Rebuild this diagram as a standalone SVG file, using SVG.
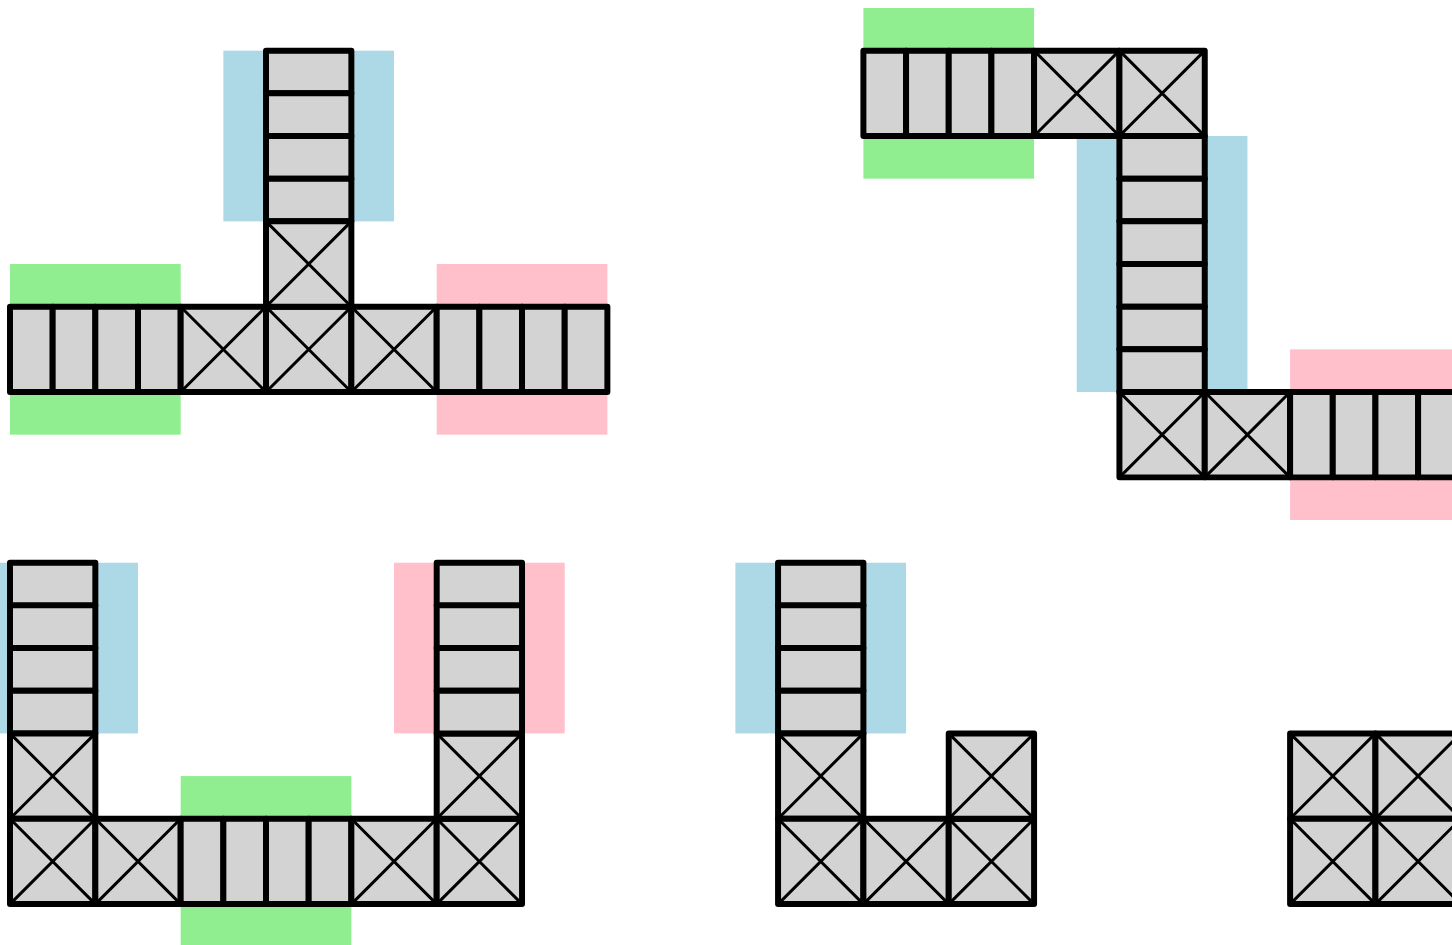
<svg xmlns="http://www.w3.org/2000/svg" xmlns:xlink="http://www.w3.org/1999/xlink" width="1452" height="945" viewBox="0 0 1452 945">
<style>
.c{fill:#d3d3d3;stroke:#000;stroke-width:0.14;stroke-linejoin:round;stroke-linecap:round}
.d{fill:none;stroke:#000;stroke-width:0.07}
.blue{fill:#add8e6}
.green{fill:#90ee90}
.pink{fill:#ffc0cb}
</style>
<defs>
<g id="xc"><rect width="2" height="2" class="c"/><path d="M0 0L2 2M2 0L0 2" class="d"/></g>
<rect id="vs" width="1" height="2" class="c"/>
<rect id="hs" width="2" height="1" class="c"/>
</defs>
<rect width="1452" height="945" fill="#fff"/>
<g transform="translate(10,8) scale(42.67)">
<g id="shape-t">
<rect class="blue" x="5" y="1" width="4" height="4"/>
<rect class="green" x="0" y="6" width="4" height="4"/>
<rect class="pink" x="10" y="6" width="4" height="4"/>
<use href="#vs" x="0" y="7"/><use href="#vs" x="1" y="7"/><use href="#vs" x="2" y="7"/><use href="#vs" x="3" y="7"/>
<use href="#xc" x="4" y="7"/><use href="#xc" x="6" y="7"/><use href="#xc" x="8" y="7"/>
<use href="#vs" x="10" y="7"/><use href="#vs" x="11" y="7"/><use href="#vs" x="12" y="7"/><use href="#vs" x="13" y="7"/>
<use href="#hs" x="6" y="1"/><use href="#hs" x="6" y="2"/><use href="#hs" x="6" y="3"/><use href="#hs" x="6" y="4"/>
<use href="#xc" x="6" y="5"/>
</g>
<g id="shape-s">
<rect class="green" x="20" y="0" width="4" height="4"/>
<rect class="blue" x="25" y="3" width="4" height="6"/>
<rect class="pink" x="30" y="8" width="4" height="4"/>
<use href="#vs" x="20" y="1"/><use href="#vs" x="21" y="1"/><use href="#vs" x="22" y="1"/><use href="#vs" x="23" y="1"/>
<use href="#xc" x="24" y="1"/><use href="#xc" x="26" y="1"/>
<use href="#hs" x="26" y="3"/><use href="#hs" x="26" y="4"/><use href="#hs" x="26" y="5"/><use href="#hs" x="26" y="6"/><use href="#hs" x="26" y="7"/><use href="#hs" x="26" y="8"/>
<use href="#xc" x="26" y="9"/><use href="#xc" x="28" y="9"/>
<use href="#vs" x="30" y="9"/><use href="#vs" x="31" y="9"/><use href="#vs" x="32" y="9"/><use href="#vs" x="33" y="9"/>
</g>
<g id="shape-u">
<rect class="blue" x="-1" y="13" width="4" height="4"/>
<rect class="pink" x="9" y="13" width="4" height="4"/>
<rect class="green" x="4" y="18" width="4" height="4"/>
<use href="#hs" x="0" y="13"/><use href="#hs" x="0" y="14"/><use href="#hs" x="0" y="15"/><use href="#hs" x="0" y="16"/>
<use href="#xc" x="0" y="17"/><use href="#xc" x="0" y="19"/><use href="#xc" x="2" y="19"/>
<use href="#vs" x="4" y="19"/><use href="#vs" x="5" y="19"/><use href="#vs" x="6" y="19"/><use href="#vs" x="7" y="19"/>
<use href="#xc" x="8" y="19"/><use href="#xc" x="10" y="19"/><use href="#xc" x="10" y="17"/>
<use href="#hs" x="10" y="13"/><use href="#hs" x="10" y="14"/><use href="#hs" x="10" y="15"/><use href="#hs" x="10" y="16"/>
</g>
<g id="shape-l">
<rect class="blue" x="17" y="13" width="4" height="4"/>
<use href="#hs" x="18" y="13"/><use href="#hs" x="18" y="14"/><use href="#hs" x="18" y="15"/><use href="#hs" x="18" y="16"/>
<use href="#xc" x="18" y="17"/><use href="#xc" x="18" y="19"/><use href="#xc" x="20" y="19"/><use href="#xc" x="22" y="19"/><use href="#xc" x="22" y="17"/>
</g>
<g id="shape-o">
<use href="#xc" x="30" y="17"/><use href="#xc" x="32" y="17"/><use href="#xc" x="30" y="19"/><use href="#xc" x="32" y="19"/>
</g>
</g>
<g id="connectors"/>
</svg>
